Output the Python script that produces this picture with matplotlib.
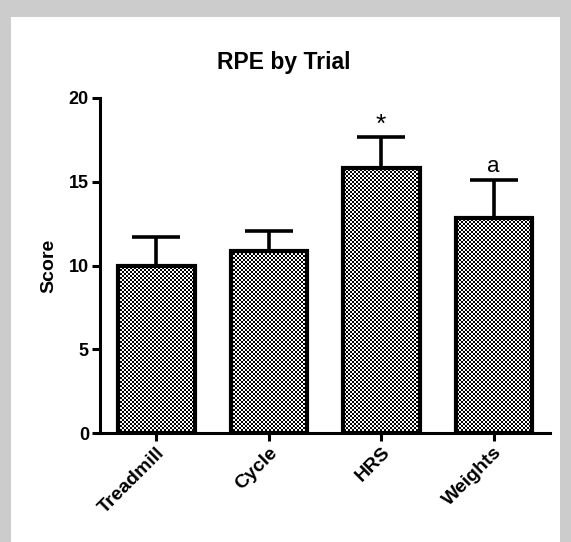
import matplotlib
matplotlib.use('Agg')
import matplotlib.pyplot as plt
import numpy as np
from matplotlib.patches import Rectangle

plt.rcParams['font.family'] = ['Liberation Sans', 'DejaVu Sans']

trials = ['Treadmill', 'Cycle', 'HRS', 'Weights']
scores = [9.95, 10.85, 15.8, 12.85]
sem = [1.75, 1.2, 1.85, 2.25]
marks = ['', '', '*', 'a']

fig = plt.figure(figsize=(5.71, 5.42), dpi=100)
fig.patch.set_facecolor('#cccccc')
# white panel inside the grey frame
fig.add_artist(Rectangle((11 / 571, 0), (560 - 11) / 571, 1 - 17 / 542,
                         transform=fig.transFigure, facecolor='white',
                         edgecolor='none', zorder=0))

ax = fig.add_axes([100 / 571, 1 - 433 / 542, 450 / 571, 335 / 542])
ax.set_facecolor('none')

x = np.arange(len(trials))
bars = ax.bar(x, scores, width=0.68, color='none', edgecolor='black',
              linewidth=3, zorder=3)
ax.errorbar(x, scores, yerr=[[0] * len(sem), sem], fmt='none',
            ecolor='black', elinewidth=2.6, capsize=17, capthick=2.6, zorder=2)

# checkered fill, about 2px per cell
ny, nx = 168, 225
checker = (np.add.outer(np.arange(ny), np.arange(nx)) % 2).astype(float)
for b in bars:
    im = ax.imshow(checker, cmap='gray', interpolation='nearest',
                   extent=(-0.5, 3.5, 0, 20), aspect='auto', zorder=1)
    im.set_clip_path(b)

for xi, s, e, m in zip(x, scores, sem, marks):
    if m == '*':
        ax.text(xi, s + e + 0.05, m, ha='center', va='bottom', fontsize=19)
    elif m:
        ax.text(xi, s + e + 0.2, m, ha='center', va='bottom', fontsize=16)

ax.set_xlim(-0.5, 3.5)
ax.set_ylim(0, 20)
ax.set_yticks([0, 5, 10, 15, 20])
ax.set_xticks(x)
ax.set_xticklabels(trials, rotation=45, ha='right', rotation_mode='anchor',
                   fontsize=14, fontweight='bold')
for lbl in ax.get_yticklabels():
    lbl.set_fontweight('bold')
    lbl.set_fontsize(13)
ax.tick_params(axis='both', width=2.2, length=6, direction='out', pad=2)
ax.spines['top'].set_visible(False)
ax.spines['right'].set_visible(False)
ax.spines['left'].set_linewidth(2.2)
ax.spines['bottom'].set_linewidth(2.2)
ax.set_ylabel('Score', fontsize=14, fontweight='bold', labelpad=8)
fig.text(284 / 571, 1 - 63 / 542, 'RPE by Trial', ha='center', va='center',
         fontsize=16.5, fontweight='bold')

fig.savefig('out.png', dpi=100, facecolor=fig.get_facecolor())
